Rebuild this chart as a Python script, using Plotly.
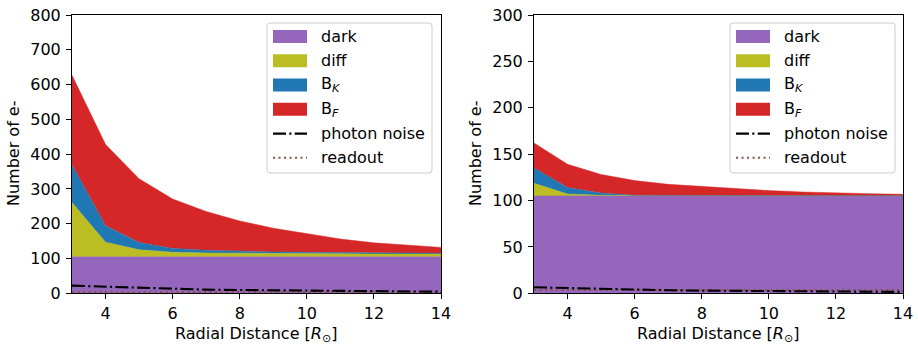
import plotly.graph_objects as go

# ---------------- data ----------------
radius = [3, 4, 5, 6, 7, 8, 9, 10, 11, 12, 13, 14]

# left panel (component values, stacked)
dark_left = [105, 105, 105, 105, 105, 105, 105, 105, 105, 105, 105, 105]
diff_left = [156, 42, 20, 13, 11, 10, 9.5, 9, 8.5, 8, 8, 8]
bk_left = [108, 47, 21, 11, 8, 6, 4.5, 4, 3.5, 3, 3, 2]
bf_left = [258, 234, 183, 142, 111, 87, 68, 54, 39, 29, 22, 17]
photon_left = [22, 19, 15, 12, 10.5, 9.5, 8.5, 7.5, 6.8, 6, 5.3, 4.6]
readout_left = [3.5, 3.5, 3.5, 3.5, 3.5, 3.5, 3.5, 3.5, 3.5, 3.5, 3.5, 3.5]

# right panel
dark_right = [105, 105, 105, 105, 105, 105, 105, 105, 105, 105, 105, 105]
diff_right = [13.6, 2, 0.6, 0.3, 0.2, 0.2, 0.1, 0.1, 0.1, 0.1, 0.1, 0.1]
bk_right = [16.4, 7, 2.4, 0.5, 0.3, 0.2, 0.2, 0.2, 0.1, 0.1, 0.1, 0.1]
bf_right = [27, 25, 20, 15.7, 12, 9.6, 7.2, 5.4, 4, 2.8, 2.2, 1.5]
photon_right = [6.5, 5.5, 4.5, 3.8, 3.3, 2.9, 2.6, 2.3, 2.1, 1.9, 1.7, 1.5]
readout_right = [3.5, 3.5, 3.5, 3.5, 3.5, 3.5, 3.5, 3.5, 3.5, 3.5, 3.5, 3.5]

left_ticks = [0, 100, 200, 300, 400, 500, 600, 700, 800]
right_ticks = [0, 50, 100, 150, 200, 250, 300]
x_ticks = [4, 6, 8, 10, 12, 14]

legend_labels = ["dark", "diff", "B<sub><i>K</i></sub>", "B<sub><i>F</i></sub>",
                 "photon noise", "readout"]

# ---------------- style ----------------
W, H = 918, 347
FONT = "DejaVu Sans"
FS = 16
C_DARK = "#9467bd"
C_DIFF = "#bcbd22"
C_BK = "#1f77b4"
C_BF = "#d62728"
C_READ = "#8c564b"
DASHDOT = "13px,3.3px,2.1px,3.3px"
DOT = "2.1px,3.4px"

def px_x(x):
    return x / W

def px_y(y):
    return 1 - y / H

fig = go.Figure()

panels = [
    ("x", "y", "L", dark_left, diff_left, bk_left, bf_left, photon_left, readout_left),
    ("x2", "y2", "R", dark_right, diff_right, bk_right, bf_right, photon_right, readout_right),
]
for xa, ya, grp, dk, df, bk, bf, ph, ro in panels:
    for vals, col, name in [(dk, C_DARK, "dark"), (df, C_DIFF, "diff"),
                            (bk, C_BK, "BK"), (bf, C_BF, "BF")]:
        fig.add_trace(go.Scatter(x=radius, y=vals, xaxis=xa, yaxis=ya, stackgroup=grp,
                                 mode="lines", line=dict(width=0.5, color=col),
                                 fillcolor=col, name=name, showlegend=False,
                                 hoverinfo="skip"))
    fig.add_trace(go.Scatter(x=radius, y=ro, xaxis=xa, yaxis=ya, mode="lines",
                             line=dict(color=C_READ, width=2.1, dash=DOT),
                             showlegend=False, name="readout"))
    fig.add_trace(go.Scatter(x=radius, y=ph, xaxis=xa, yaxis=ya, mode="lines",
                             line=dict(color="black", width=2.1, dash=DASHDOT),
                             showlegend=False, name="photon noise"))

ydom = [px_y(293.3), px_y(15)]
axis_common = dict(showline=True, mirror=True, linecolor="black", linewidth=1.1,
                   ticks="outside", ticklen=5, tickwidth=1.1, tickcolor="black",
                   showgrid=False, zeroline=False, automargin=False,
                   tickfont=dict(family=FONT, size=FS, color="black"))

fig.update_layout(
    template="none",
    width=W, height=H,
    margin=dict(l=0, r=0, t=0, b=0, pad=0),
    paper_bgcolor="white", plot_bgcolor="white",
    showlegend=False,
    font=dict(family=FONT, size=FS, color="black"),
    xaxis=dict(domain=[px_x(72), px_x(441)], range=[3, 14], tickvals=x_ticks,
               anchor="y", **axis_common),
    yaxis=dict(domain=ydom, range=[0, 800], tickvals=left_ticks, anchor="x",
               ticklabelstandoff=2, **axis_common),
    xaxis2=dict(domain=[px_x(534), px_x(903)], range=[3, 14], tickvals=x_ticks,
                anchor="y2", **axis_common),
    yaxis2=dict(domain=ydom, range=[0, 300], tickvals=right_ticks, anchor="x2",
                ticklabelstandoff=2, **axis_common),
)

annotations = []
shapes = []

# axis titles
for cx, cy in [(256, 334), (718, 334)]:
    annotations.append(dict(x=px_x(cx), y=px_y(cy), xref="paper", yref="paper",
                            text="Radial Distance [<i>R</i><sub>⊙</sub>]",
                            showarrow=False, xanchor="center", yanchor="middle",
                            font=dict(family=FONT, size=FS, color="black")))
for cx in [13, 475]:
    annotations.append(dict(x=px_x(cx), y=px_y(154), xref="paper", yref="paper",
                            text="Number of e-", textangle=-90,
                            showarrow=False, xanchor="center", yanchor="middle",
                            font=dict(family=FONT, size=FS, color="black")))

# legends (drawn manually to mimic the framed legend)
def rounded_rect(x0, y0, x1, y1, r):
    X = px_x
    Y = px_y
    p = f"M {X(x0 + r)},{Y(y0)} L {X(x1 - r)},{Y(y0)} Q {X(x1)},{Y(y0)} {X(x1)},{Y(y0 + r)} "
    p += f"L {X(x1)},{Y(y1 - r)} Q {X(x1)},{Y(y1)} {X(x1 - r)},{Y(y1)} "
    p += f"L {X(x0 + r)},{Y(y1)} Q {X(x0)},{Y(y1)} {X(x0)},{Y(y1 - r)} "
    p += f"L {X(x0)},{Y(y0 + r)} Q {X(x0)},{Y(y0)} {X(x0 + r)},{Y(y0)} Z"
    return p

rows = [36.5, 60.7, 85, 109.2, 133.6, 157.8]
patch_colors = [C_DARK, C_DIFF, C_BK, C_BF]
for ox in [0, 463]:
    shapes.append(dict(type="path", xref="paper", yref="paper",
                       path=rounded_rect(267 + ox, 23, 432 + ox, 173, 3),
                       fillcolor="rgba(255,255,255,0.8)",
                       line=dict(color="#cccccc", width=1)))
    for i, lab in enumerate(legend_labels):
        yc = rows[i]
        if i < 4:
            shapes.append(dict(type="rect", xref="paper", yref="paper",
                               x0=px_x(273 + ox), x1=px_x(307 + ox),
                               y0=px_y(yc + 6.5), y1=px_y(yc - 6.5),
                               fillcolor=patch_colors[i], line=dict(width=0)))
        elif i == 4:
            shapes.append(dict(type="line", xref="paper", yref="paper",
                               x0=px_x(273 + ox), x1=px_x(307 + ox),
                               y0=px_y(yc), y1=px_y(yc),
                               line=dict(color="black", width=2.1, dash=DASHDOT)))
        else:
            shapes.append(dict(type="line", xref="paper", yref="paper",
                               x0=px_x(273 + ox), x1=px_x(307 + ox),
                               y0=px_y(yc), y1=px_y(yc),
                               line=dict(color=C_READ, width=2.1, dash=DOT)))
        annotations.append(dict(x=px_x(319 + ox), y=px_y(yc), xref="paper", yref="paper",
                                text=lab, showarrow=False, xanchor="left",
                                yanchor="middle",
                                font=dict(family=FONT, size=FS, color="black")))

fig.update_layout(annotations=annotations, shapes=shapes)
fig.write_html("out.html")
